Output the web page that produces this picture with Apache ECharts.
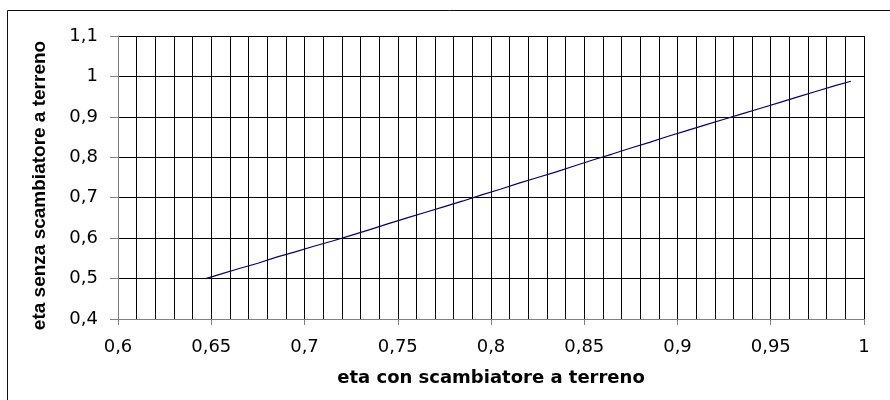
<!DOCTYPE html>
<html>
<head>
<meta charset="utf-8">
<script src="https://cdn.jsdelivr.net/npm/echarts@6/dist/echarts.min.js"></script>
<style>
html,body{margin:0;padding:0;background:#fff;}
#chart{width:890px;height:400px;}
</style>
</head>
<body>
<div id="chart"></div>
<script>
var xTitle = 'eta con scambiatore a terreno';
var yTitle = 'eta senza scambiatore a terreno';
var etaCon = [0.647,0.655,0.665,0.675,0.685,0.695,0.705,0.715,0.725,0.735,0.745,0.755,0.765,0.775,0.785,0.795,0.805,0.815,0.825,0.835,0.845,0.855,0.865,0.875,0.885,0.895,0.905,0.915,0.925,0.935,0.945,0.955,0.965,0.975,0.985,0.993];
var etaSenza = [0.500,0.511,0.525,0.538,0.553,0.566,0.580,0.593,0.607,0.621,0.636,0.650,0.664,0.678,0.692,0.707,0.721,0.736,0.750,0.764,0.779,0.794,0.808,0.823,0.837,0.852,0.866,0.880,0.894,0.908,0.922,0.936,0.950,0.964,0.978,0.988];

var seriesData = etaCon.map(function(x,i){return [x, etaSenza[i]];});
function fmt(v){ return String(+v.toFixed(2)).replace('.', ','); }

var chart = echarts.init(document.getElementById('chart'), null, {renderer:'canvas'});
chart.setOption({
  backgroundColor:'#fff',
  animation:false,
  grid:{left:118, right:26, top:36, bottom:81, containLabel:false},
  graphic:[{type:'rect', shape:{x:7.5,y:10.5,width:900,height:400}, style:{fill:'none', stroke:'#111', lineWidth:1}, silent:true, z:-1}],
  xAxis:{
    type:'value', min:0.6, max:1, interval:0.05,
    name:xTitle, nameLocation:'middle', nameGap:50,
    nameTextStyle:{fontFamily:'DejaVu Sans', fontWeight:'bold', fontSize:18, color:'#000'},
    axisLine:{show:true, lineStyle:{color:'#808080', width:1}},
    axisTick:{show:true, inside:false, length:6, lineStyle:{color:'#808080'}},
    minorTick:{show:false, splitNumber:5},
    axisLabel:{formatter:fmt, fontFamily:'DejaVu Sans', fontSize:18, color:'#000', margin:19},
    splitLine:{show:true, lineStyle:{color:'#000', width:1}},
    minorSplitLine:{show:true, lineStyle:{color:'#000', width:1}}
  },
  yAxis:{
    type:'value', min:0.4, max:1.1, interval:0.1,
    name:yTitle, nameLocation:'middle', nameGap:69, nameRotate:90,
    nameTextStyle:{fontFamily:'Liberation Sans', fontWeight:'bold', fontSize:19, color:'#000', padding:[0,16,0,0]},
    axisLine:{show:true, lineStyle:{color:'#808080', width:1}},
    axisTick:{show:true, inside:false, length:8, lineStyle:{color:'#808080'}},
    axisLabel:{formatter:fmt, fontFamily:'DejaVu Sans', fontSize:18, color:'#000', margin:20},
    splitLine:{show:true, lineStyle:{color:'#000', width:1}}
  },
  series:[{
    type:'line', data:seriesData, showSymbol:false, symbol:'none',
    lineStyle:{color:'#000080', width:1.2}, z:5
  }]
});
</script>
</body>
</html>
